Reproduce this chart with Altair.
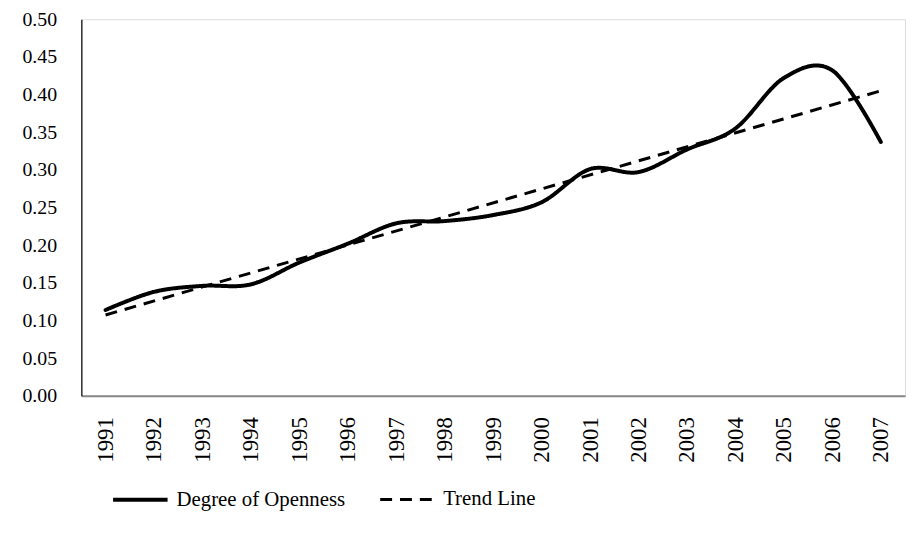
import altair as alt
import pandas as pd

years = list(range(1991, 2008))
openness = [0.114, 0.138, 0.146, 0.148, 0.177, 0.202, 0.229, 0.232, 0.240,
            0.257, 0.301, 0.297, 0.327, 0.355, 0.422, 0.432, 0.337]
series_names = ["Degree of Openness", "Trend Line"]
y_ticks = [0.0, 0.05, 0.10, 0.15, 0.20, 0.25, 0.30, 0.35, 0.40, 0.45, 0.50]

df = pd.DataFrame({"Year": years, "Openness": openness})

FONT = "Liberation Serif"

x_enc = alt.X(
    "Year:Q",
    scale=alt.Scale(domain=[1990.5, 2007.5], nice=False, zero=False),
    axis=alt.Axis(
        values=years, format="d", title=None, labelAngle=270,
        labelFont=FONT, labelFontSize=23, labelColor="black",
        labelPadding=21, ticks=False, grid=False,
        domainColor="#868686", domainWidth=2, labelFlush=False,
        labelOverlap=False,
    ),
)
y_enc = alt.Y(
    "Openness:Q",
    scale=alt.Scale(domain=[0, 0.5], nice=False),
    axis=alt.Axis(
        values=y_ticks, format=".2f", title=None,
        labelFont=FONT, labelFontSize=20, labelColor="black",
        labelPadding=25, ticks=False, grid=False,
        domainColor="black", domainWidth=1.2, labelFlush=False,
        labelOverlap=False, tickCount=11,
    ),
)

dash_scale = alt.Scale(domain=series_names, range=[[1, 0], [12, 8]])
width_scale = alt.Scale(domain=series_names, range=[4, 3])
legend = alt.Legend(
    title=None, orient="none", direction="horizontal",
    legendX=30, legendY=455,
    symbolType="stroke", symbolSize=3025, symbolStrokeColor="black",
    symbolStrokeWidth=3.5,
    labelFont=FONT, labelFontSize=21, labelColor="black", labelLimit=400,
    columnPadding=28, labelOffset=7,
)

main = alt.Chart(df).transform_calculate(series="'Degree of Openness'").mark_line(
    color="black", interpolate="cardinal", strokeCap="round"
).encode(
    x=x_enc, y=y_enc,
    strokeDash=alt.StrokeDash("series:N", scale=dash_scale, legend=legend),
    strokeWidth=alt.StrokeWidth("series:N", scale=width_scale, legend=None),
)

trend = alt.Chart(df).transform_regression(
    "Year", "Openness", method="linear"
).transform_calculate(series="'Trend Line'").mark_line(
    color="black"
).encode(
    x=x_enc, y=y_enc,
    strokeDash=alt.StrokeDash("series:N", scale=dash_scale, legend=legend),
    strokeWidth=alt.StrokeWidth("series:N", scale=width_scale, legend=None),
)

chart = alt.layer(main, trend).properties(
    width=831, height=380,
    autosize=alt.AutoSizeParams(type="none"),
    padding={"left": 74, "top": 9, "right": 4, "bottom": 125},
).configure_view(stroke=None).configure(background="white").configure_axisY(
    labelOverlap=False
)

chart.save("out.html", embed_options={"renderer": "svg", "actions": False})
